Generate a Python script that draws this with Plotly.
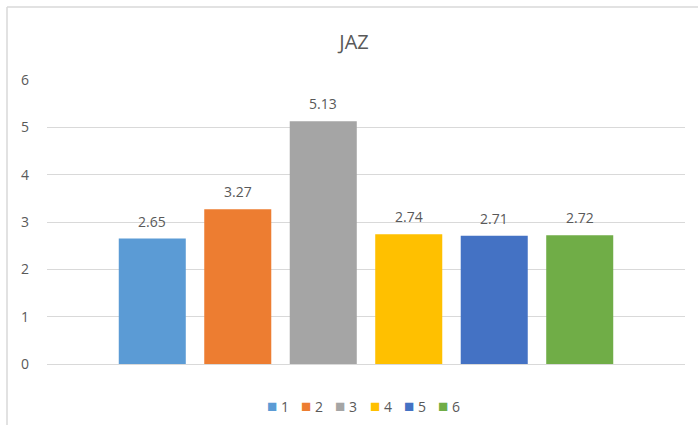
import plotly.graph_objects as go

series_names = ["1", "2", "3", "4", "5", "6"]
values = [2.65, 3.27, 5.13, 2.74, 2.71, 2.72]
colors = ["#5B9BD5", "#ED7D31", "#A5A5A5", "#FFC000", "#4472C4", "#70AD47"]
category = ["JAZ"]

FONT = "Open Sans, Arial"
TXT = "#595959"

W, H = 698, 425
L, R, T, B = 47, 13, 80, 61
pw, ph = W - L - R, H - T - B
BARGAP, GROUPGAP = 0.196, 0.216

fig = go.Figure()
for name, v, c in zip(series_names, values, colors):
    fig.add_trace(go.Bar(
        x=category, y=[v], name=name, marker=dict(color=c, line=dict(width=0)),
        showlegend=False,
    ))

# data labels, centred over each bar of the group
n = len(values)
slot = pw * (1 - BARGAP) / n
for i, v in enumerate(values):
    fig.add_annotation(
        x=0, y=v, xref="x", yref="y", showarrow=False,
        text=f"{v:.2f}", xanchor="center", yanchor="bottom",
        xshift=(i - (n - 1) / 2) * slot, yshift=6,
        font=dict(family=FONT, size=14, color=TXT),
    )

fig.update_layout(
    width=W, height=H,
    margin=dict(l=L, r=R, t=T, b=B, autoexpand=False),
    paper_bgcolor="white", plot_bgcolor="white",
    barmode="group", bargap=BARGAP, bargroupgap=GROUPGAP,
    title=dict(text="JAZ", x=354 / W, xanchor="center", y=1 - 42 / H, yanchor="middle",
               font=dict(family=FONT, size=20, color=TXT)),
    yaxis=dict(range=[0, 6], dtick=1, showgrid=True, gridcolor="#D9D9D9", gridwidth=1,
               zeroline=False, showline=False, ticks="", ticklabelstandoff=17,
               tickfont=dict(family=FONT, size=14, color=TXT)),
    xaxis=dict(type="category", showticklabels=False, showline=True, linecolor="#D9D9D9", ticks=""),
    showlegend=False,
)

# legend row (built from the series names and colours)
leg_y = (H - B - 405) / ph
start, step = 265, 34.2
for i, (name, c) in enumerate(zip(series_names, colors)):
    px = start + i * step
    fig.add_annotation(
        xref="paper", yref="paper", x=(px - L) / pw, y=leg_y,
        xanchor="left", yanchor="middle", showarrow=False,
        text=f"<span style='color:{c};font-size:17px'>■</span> {name}",
        font=dict(family=FONT, size=14, color=TXT),
    )

# chart-area border (top and left edges visible in the reference)
fig.add_shape(type="line", xref="paper", yref="paper",
              x0=(7 - L) / pw, x1=(W - L) / pw, y0=(H - B - 7) / ph, y1=(H - B - 7) / ph,
              line=dict(color="#D9D9D9", width=1.5))
fig.add_shape(type="line", xref="paper", yref="paper",
              x0=(7 - L) / pw, x1=(7 - L) / pw, y0=(H - B - 7) / ph, y1=(H - B - H) / ph,
              line=dict(color="#D9D9D9", width=1.5))

fig.write_html("out.html")
